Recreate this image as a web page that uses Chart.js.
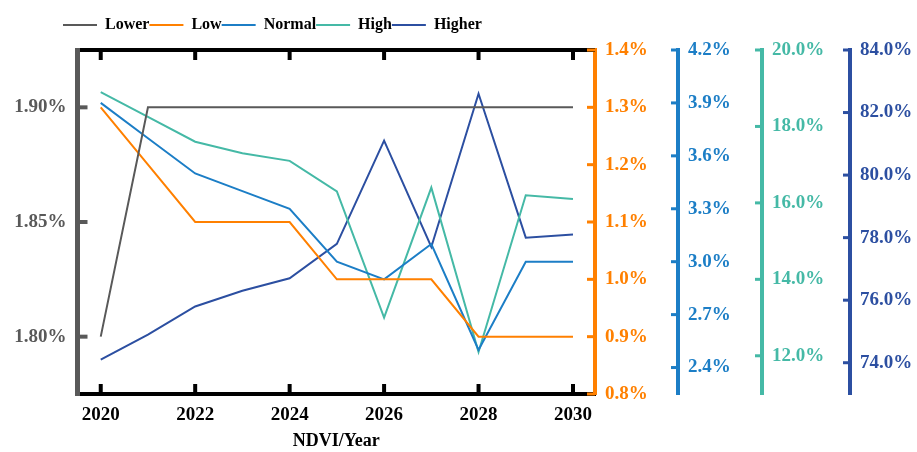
<!DOCTYPE html>
<html>
<head>
<meta charset="utf-8">
<script src="https://cdn.jsdelivr.net/npm/chart.js@4.4.1/dist/chart.umd.min.js"></script>
<style>
  html, body { margin: 0; padding: 0; background: #ffffff; }
  #wrap { width: 917px; height: 452px; position: relative; }
  canvas { display: block; }
</style>
</head>
<body>
<div id="wrap"><canvas id="c" width="917" height="452"></canvas></div>
<script>
// ---- data ----
const years = [2020, 2021, 2022, 2023, 2024, 2025, 2026, 2027, 2028, 2029, 2030];
const lower  = [1.80, 1.90, 1.90, 1.90, 1.90, 1.90, 1.90, 1.90, 1.90, 1.90, 1.90];
const low    = [1.3, 1.2, 1.1, 1.1, 1.1, 1.0, 1.0, 1.0, 0.9, 0.9, 0.9];
const normal = [3.90, 3.70, 3.50, 3.40, 3.30, 3.00, 2.90, 3.10, 2.50, 3.00, 3.00];
const high   = [18.9, 18.25, 17.6, 17.3, 17.1, 16.3, 13.0, 16.4, 12.1, 16.2, 16.1];
const higher = [74.1, 74.9, 75.8, 76.3, 76.7, 77.8, 81.1, 77.7, 82.6, 78.0, 78.1];

// ---- tick labels ----
const xTicks      = [2020, 2022, 2024, 2026, 2028, 2030];
const lowerTicks  = [1.80, 1.85, 1.90];
const lowTicks    = [0.8, 0.9, 1.0, 1.1, 1.2, 1.3, 1.4];
const normalTicks = [2.4, 2.7, 3.0, 3.3, 3.6, 3.9, 4.2];
const highTicks   = [12, 14, 16, 18, 20];
const higherTicks = [74, 76, 78, 80, 82, 84];

const seriesNames = ['Lower', 'Low', 'Normal', 'High', 'Higher'];

const C_GRAY = '#595959', C_ORANGE = '#FF8000', C_BLUE = '#1C7EC6', C_TEAL = '#45B9A6', C_NAVY = '#2C4FA1';
const FONT = 'Liberation Serif, Times New Roman, serif';

function pts(arr) { return years.map((y, i) => ({ x: y, y: arr[i] })); }
function setTicks(list) { return s => { s.ticks = list.map(v => ({ value: v })); }; }
function ds(label, arr, color, axis) {
  return { label, data: pts(arr), yAxisID: axis, borderColor: color, backgroundColor: color,
           borderWidth: 2, pointRadius: 0, pointHoverRadius: 0, tension: 0, fill: false };
}
function rightAxis(min, max, list, color, width, digits) {
  return {
    type: 'linear', position: 'right', min, max,
    afterBuildTicks: setTicks(list),
    afterFit: s => { s.width = width; },
    grid: { display: false, drawTicks: false, drawOnChartArea: false },
    border: { display: true, color, width: 4 },
    ticks: { autoSkip: false, color, padding: 10, font: { family: FONT, size: 19, weight: 'bold' },
             callback: v => Number(v).toFixed(digits) + '%' }
  };
}

const legendPlace = {
  id: 'legendPlace',
  beforeLayout(chart) {
    const lg = chart.legend;
    if (lg && !lg._wrappedFit) {
      const f = lg.fit;
      lg.fit = function () { f.call(this); this.height = 33; };
      lg._wrappedFit = true;
    }
  },
  afterLayout(chart) {
    const lg = chart.legend;
    if (lg) { lg.left += 63; lg.right += 63; }
  }
};

const frame = {
  id: 'frame',
  afterDraw(chart) {
    const { ctx, chartArea: a, scales } = chart;
    const line = (x1, y1, x2, y2) => { ctx.beginPath(); ctx.moveTo(x1, y1); ctx.lineTo(x2, y2); ctx.stroke(); };
    ctx.save();
    ctx.lineCap = 'butt';
    // top border
    ctx.strokeStyle = '#000'; ctx.lineWidth = 4;
    line(a.left, a.top, a.right, a.top);
    // x ticks (inward, top & bottom)
    const sx = scales.x;
    sx.ticks.forEach(t => {
      const px = sx.getPixelForValue(t.value);
      line(px, a.bottom, px, a.bottom - 10);
      line(px, a.top, px, a.top + 10);
    });
    // left axis ticks
    const sl = scales.y;
    ctx.strokeStyle = C_GRAY; ctx.lineWidth = 4;
    sl.ticks.forEach(t => { const py = sl.getPixelForValue(t.value); line(a.left, py, a.left + 10, py); });
    // right axis ticks (pointing left)
    [['yLow', C_ORANGE, 8], ['yNormal', C_BLUE, 7], ['yHigh', C_TEAL, 7], ['yHigher', C_NAVY, 7]].forEach(([id, col, len]) => {
      const s = scales[id];
      ctx.strokeStyle = col; ctx.lineWidth = 3;
      s.ticks.forEach(t => { const py = s.getPixelForValue(t.value); line(s.left, py, s.left - len, py); });
    });
    // left border extended over corners
    ctx.strokeStyle = C_GRAY; ctx.lineWidth = 5;
    line(a.left, a.top - 2, a.left, a.bottom + 2);
    ctx.restore();
  }
};

new Chart(document.getElementById('c'), {
  type: 'line',
  data: {
    datasets: [
      ds(seriesNames[0], lower, C_GRAY, 'y'),
      ds(seriesNames[1], low, C_ORANGE, 'yLow'),
      ds(seriesNames[2], normal, C_BLUE, 'yNormal'),
      ds(seriesNames[3], high, C_TEAL, 'yHigh'),
      ds(seriesNames[4], higher, C_NAVY, 'yHigher')
    ]
  },
  options: {
    responsive: false,
    animation: false,
    devicePixelRatio: 1,
    layout: { padding: { top: 17, left: 0, right: 0, bottom: 0 } },
    plugins: {
      tooltip: { enabled: false },
      legend: {
        position: 'top', align: 'start',
        labels: { boxWidth: 34, boxHeight: 0, padding: 0, color: '#000',
                  font: { family: FONT, size: 16, weight: 'bold' } }
      }
    },
    scales: {
      x: {
        type: 'linear', position: 'bottom', min: 2019.508, max: 2030.466,
        afterBuildTicks: setTicks(xTicks),
        afterFit: s => { s.height = 58; },
        grid: { display: false, drawTicks: false },
        border: { display: true, color: '#000', width: 4 },
        ticks: { autoSkip: false, maxRotation: 0, color: '#000', padding: 10,
                 font: { family: FONT, size: 19, weight: 'bold' }, callback: v => String(v) },
        title: { display: true, text: 'NDVI/Year', color: '#000', padding: { top: 0, bottom: 0 },
                 font: { family: FONT, size: 18, weight: 'bold' } }
      },
      y: {
        type: 'linear', position: 'left', min: 1.775, max: 1.925,
        afterBuildTicks: setTicks(lowerTicks),
        afterFit: s => { s.width = 77.5; },
        grid: { display: false, drawTicks: false },
        border: { display: true, color: C_GRAY, width: 5 },
        ticks: { autoSkip: false, color: C_GRAY, padding: 11,
                 font: { family: FONT, size: 19, weight: 'bold' },
                 callback: v => Number(v).toFixed(2) + '%' }
      },
      yLow: rightAxis(0.8, 1.4, lowTicks, C_ORANGE, 83, 1),
      yNormal: rightAxis(2.25, 4.2, normalTicks, C_BLUE, 84, 1),
      yHigh: rightAxis(11, 20, highTicks, C_TEAL, 88, 1),
      yHigher: rightAxis(73, 84, higherTicks, C_NAVY, 67, 1)
    }
  },
  plugins: [legendPlace, frame]
});
</script>
</body>
</html>
